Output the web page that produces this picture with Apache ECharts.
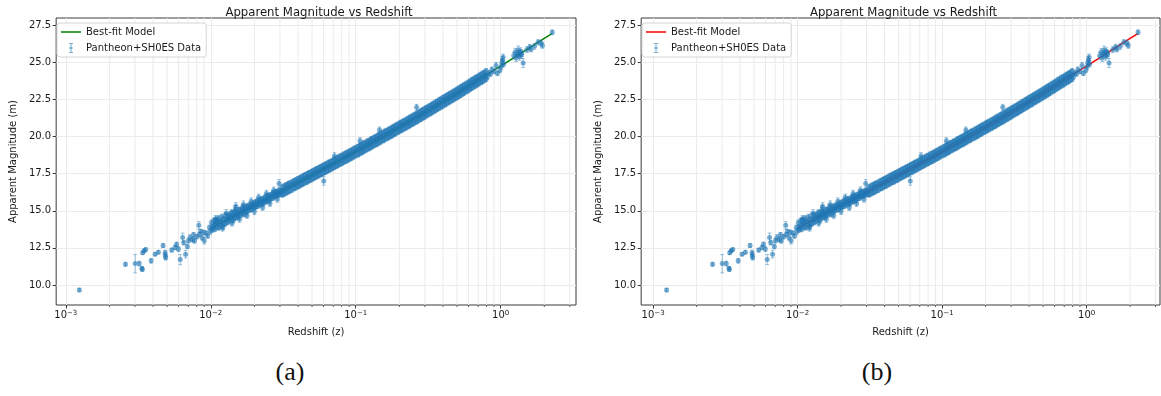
<!DOCTYPE html>
<html>
<head>
<meta charset="utf-8">
<script src="https://cdn.jsdelivr.net/npm/echarts@6/dist/echarts.min.js"></script>
<style>
  body { margin: 0; background: #fff; width: 1161px; height: 396px; position: relative; overflow: hidden; }
  .panel { position: absolute; top: 0; height: 345px; }
  #chartA { left: 0; width: 590px; }
  #chartB { left: 585px; width: 576px; }
  .cap { position: absolute; top: 357px; width: 100px; text-align: center; line-height: 30px;
         font-family: 'Liberation Serif', 'DejaVu Serif', serif; font-size: 26px; color: #111; }
</style>
</head>
<body>
<div id="chartA" class="panel"></div>
<div id="chartB" class="panel"></div>
<div class="cap" style="left:240px">(a)</div>
<div class="cap" style="left:827px">(b)</div>
<script>
// [z, m, err]
const lowZData = [
  [0.00124,9.66,0.12],[0.00258,11.40,0.13],[0.00301,11.44,0.62],[0.00321,11.44,0.16],
  [0.00335,11.13,0.12],[0.00337,11.05,0.13],[0.00339,12.17,0.12],[0.00347,12.30,0.12],
  [0.00356,12.39,0.11],[0.00388,11.63,0.16],[0.00413,12.08,0.11],[0.00435,12.21,0.12],
  [0.00469,12.66,0.13],[0.00484,12.18,0.16],[0.00486,11.98,0.22],[0.00489,11.86,0.18],
  [0.00538,12.35,0.13],[0.00567,12.53,0.15],[0.00581,12.75,0.14],[0.00598,12.42,0.16],
  [0.00616,11.71,0.34],[0.00640,13.20,0.30],[0.00652,12.85,0.15],[0.00671,12.08,0.26],
  [0.00690,12.60,0.15],[0.00702,12.99,0.15],[0.00720,13.20,0.20],[0.00748,13.05,0.15],
  [0.00761,13.39,0.15],[0.00772,12.99,0.18],[0.00800,13.25,0.15],[0.00828,14.02,0.25],
  [0.00834,13.40,0.15],[0.00851,13.62,0.12],[0.00870,13.20,0.18],[0.00890,13.55,0.15],
  [0.00902,12.98,0.22],[0.00930,13.50,0.15],[0.00952,13.30,0.15],[0.00980,13.88,0.15],
  [0.00991,13.60,0.20]
];

const nearData = [
  [0.0101,14.20,0.18],[0.0102,13.70,0.16],[0.0103,13.95,0.14],
  [0.0105,14.35,0.17],[0.0104,13.80,0.15],
  [0.0107,13.75,0.16],[0.0108,14.30,0.18],[0.0106,14.05,0.14],[0.0108,14.46,0.22],
  [0.0110,14.40,0.17],[0.0111,13.90,0.15],[0.0109,14.10,0.13],
  [0.0113,14.50,0.19],[0.0114,13.85,0.16],[0.0112,14.18,0.14],
  [0.0116,14.30,0.15],[0.0117,14.05,0.14],
  [0.0119,14.60,0.18],[0.0120,13.95,0.16],[0.0118,14.25,0.13],[0.0121,13.83,0.20],
  [0.0122,14.45,0.15],[0.0123,14.15,0.14],
  [0.0126,14.70,0.18],[0.0125,14.10,0.16],[0.0127,14.40,0.14],[0.0128,14.83,0.25],
  [0.0130,14.20,0.15],[0.0131,14.65,0.17],[0.0129,14.42,0.13],
  [0.0134,14.75,0.17],[0.0133,14.30,0.15],[0.0135,14.52,0.13],
  [0.0138,14.40,0.15],[0.0139,14.90,0.18],[0.0137,14.60,0.14],[0.0140,14.17,0.20],
  [0.0142,14.85,0.16],[0.0143,14.35,0.17],[0.0141,14.62,0.13],
  [0.0146,14.50,0.15],[0.0147,14.95,0.17],[0.0145,14.70,0.13],[0.0148,15.14,0.22],
  [0.0150,14.90,0.16],[0.0151,14.55,0.15],[0.0149,15.30,0.25],[0.0152,14.74,0.13],
  [0.0155,14.60,0.16],[0.0156,15.05,0.17],[0.0154,14.82,0.13],
  [0.0160,15.10,0.16],[0.0161,14.70,0.15],[0.0159,14.88,0.13],[0.0158,14.43,0.20],
  [0.0165,14.80,0.15],[0.0166,15.25,0.18],[0.0164,15.00,0.13],[0.0168,15.42,0.25],
  [0.0170,15.15,0.16],[0.0171,14.75,0.17],[0.0169,14.98,0.13],
  [0.0175,15.30,0.16],[0.0176,14.90,0.15],[0.0174,15.08,0.12],[0.0178,14.69,0.20],
  [0.0180,15.00,0.15],[0.0181,15.35,0.16],[0.0179,15.15,0.12],
  [0.0186,15.40,0.17],[0.0187,15.05,0.15],[0.0185,15.22,0.12],[0.0190,15.65,0.22],
  [0.0192,15.10,0.15],[0.0193,15.45,0.16],[0.0191,15.28,0.12],
  [0.0198,15.55,0.16],[0.0199,15.20,0.15],[0.0197,15.35,0.12],[0.0200,14.95,0.20],
  [0.0204,15.25,0.14],[0.0205,15.60,0.16],[0.0203,15.40,0.12],
  [0.0210,15.70,0.16],[0.0211,15.30,0.14],[0.0209,15.47,0.12],[0.0214,15.91,0.22],
  [0.0217,15.40,0.14],[0.0218,15.75,0.15],[0.0216,15.55,0.12],
  [0.0224,15.80,0.15],[0.0225,15.45,0.14],[0.0223,15.60,0.12],[0.0228,15.23,0.20],
  [0.0231,15.50,0.14],[0.0232,15.85,0.15],[0.0230,15.68,0.12],
  [0.0238,15.95,0.15],[0.0239,15.60,0.14],[0.0237,15.74,0.11],[0.0242,16.16,0.22],
  [0.0245,15.65,0.14],[0.0246,16.00,0.15],[0.0244,15.80,0.11],
  [0.0252,16.05,0.15],[0.0253,15.70,0.14],[0.0251,15.86,0.11],[0.0256,15.50,0.20],
  [0.0260,15.80,0.13],[0.0261,16.10,0.15],[0.0259,15.94,0.11],
  [0.0268,16.20,0.15],[0.0269,15.85,0.13],[0.0267,16.00,0.11],[0.0272,16.39,0.22],
  [0.0276,15.95,0.13],[0.0277,16.25,0.14],[0.0275,16.06,0.11],
  [0.0284,16.30,0.14],[0.0285,16.00,0.13],[0.0283,16.12,0.11],[0.0288,15.78,0.20],
  [0.0292,16.05,0.13],[0.0293,16.35,0.14],[0.0291,16.18,0.11],[0.0296,16.85,0.25],
  [0.0300,16.40,0.14],[0.0301,16.10,0.13],[0.0299,16.24,0.11],
  [0.0310,16.61,0.14],[0.0311,16.06,0.14],[0.0309,16.34,0.11],
  [0.0320,16.12,0.14],[0.0321,16.68,0.14],[0.0319,16.40,0.11],
  [0.0330,16.75,0.14],[0.0331,16.20,0.14],[0.0329,16.48,0.11],
  [0.0340,16.26,0.14],[0.0341,16.82,0.14],[0.0339,16.55,0.11],
  [0.0350,16.88,0.14],[0.0351,16.33,0.14],[0.0349,16.61,0.11],
  [0.0362,16.39,0.14],[0.0363,16.95,0.14],[0.0361,16.68,0.11],
  [0.0374,17.03,0.14],[0.0375,16.48,0.14],[0.0373,16.76,0.11],
  [0.0386,16.54,0.14],[0.0387,17.10,0.14],[0.0385,16.82,0.11],
  [0.0398,17.17,0.14],[0.0399,16.62,0.14],[0.0397,16.90,0.11],
  [0.0410,16.67,0.14],[0.0411,17.23,0.14],[0.0409,16.96,0.11],
  [0.0423,17.30,0.14],[0.0424,16.75,0.14],[0.0422,17.03,0.11],
  [0.0436,16.82,0.14],[0.0437,17.38,0.14],[0.0435,17.10,0.11],
  [0.0450,17.45,0.14],[0.0451,16.90,0.14],[0.0449,17.18,0.11],
  [0.0464,16.95,0.14],[0.0465,17.51,0.14],[0.0463,17.24,0.11],
  [0.0478,17.58,0.14],[0.0479,17.03,0.14],[0.0477,17.30,0.11],
  [0.0493,17.08,0.14],[0.0494,17.64,0.14],[0.0492,17.37,0.11],
  [0.0508,17.72,0.14],[0.0509,17.17,0.14],[0.0507,17.44,0.11],
  [0.0524,17.23,0.14],[0.0525,17.79,0.14],[0.0523,17.52,0.11],
  [0.0540,17.85,0.14],[0.0541,17.30,0.14],[0.0539,17.57,0.11],
  [0.0557,17.36,0.14],[0.0558,17.92,0.14],[0.0556,17.65,0.11],
  [0.0574,17.99,0.14],[0.0575,17.44,0.14],[0.0573,17.72,0.11],
  [0.0592,17.50,0.14],[0.0593,18.06,0.14],[0.0591,17.79,0.11],
  [0.0602,17.01,0.28],
  [0.0610,18.13,0.14],[0.0611,17.58,0.14],[0.0609,17.86,0.11],
  [0.0629,17.63,0.14],[0.0630,18.19,0.14],[0.0628,17.92,0.11],
  [0.0648,18.27,0.14],[0.0649,17.72,0.14],[0.0647,18.00,0.11],
  [0.0668,17.77,0.14],[0.0669,18.33,0.14],[0.0667,18.06,0.11],
  [0.0689,18.40,0.14],[0.0690,17.85,0.14],[0.0688,18.13,0.11],
  [0.0710,17.92,0.14],[0.0711,18.48,0.14],[0.0714,18.70,0.22],[0.0709,18.21,0.11],
  [0.0732,18.54,0.14],[0.0733,17.99,0.14],[0.0731,18.27,0.11],
  [0.0755,18.05,0.14],[0.0756,18.61,0.14],[0.0754,18.34,0.11],
  [0.0778,18.69,0.14],[0.0779,18.14,0.14],[0.0777,18.42,0.11],
  [0.0802,18.19,0.14],[0.0803,18.75,0.14],[0.0801,18.48,0.11],
  [0.0827,18.83,0.14],[0.0828,18.28,0.14],[0.0826,18.56,0.11],
  [0.0853,18.33,0.14],[0.0854,18.89,0.14],[0.0852,18.62,0.11],
  [0.0880,18.96,0.14],[0.0881,18.41,0.14],[0.0879,18.69,0.11],
  [0.0907,18.48,0.14],[0.0908,19.04,0.14],[0.0906,18.77,0.11],
  [0.0935,19.10,0.14],[0.0936,18.55,0.14],[0.0934,18.83,0.11],
  [0.0964,18.62,0.14],[0.0965,19.18,0.14],[0.0963,18.91,0.11],
  [0.0994,19.25,0.14],[0.0995,18.70,0.14],[0.0993,18.98,0.11]
];

const midData = [
  [0.103,19.33,0.15],[0.1035,18.77,0.15],[0.1025,19.07,0.12],
  [0.106,18.84,0.15],[0.1065,19.41,0.15],[0.1055,19.13,0.12],[0.107,19.73,0.20],
  [0.109,19.46,0.15],[0.1095,18.91,0.15],[0.1085,19.20,0.12],
  [0.112,18.97,0.15],[0.1125,19.54,0.15],[0.1115,19.24,0.12],
  [0.115,19.60,0.15],[0.1155,19.05,0.15],[0.1145,19.34,0.12],
  [0.119,19.11,0.15],[0.1195,19.68,0.15],[0.1185,19.40,0.12],
  [0.122,19.73,0.15],[0.1225,19.18,0.15],[0.1215,19.47,0.12],
  [0.126,19.24,0.15],[0.1265,19.81,0.15],[0.1255,19.53,0.12],
  [0.129,19.87,0.15],[0.1295,19.32,0.15],[0.1285,19.60,0.12],
  [0.133,19.38,0.15],[0.1335,19.95,0.15],[0.1325,19.68,0.12],
  [0.137,20.00,0.15],[0.1375,19.45,0.15],[0.1365,19.73,0.12],
  [0.141,19.51,0.15],[0.1415,20.08,0.15],[0.1405,19.80,0.12],
  [0.145,20.14,0.15],[0.1455,19.59,0.15],[0.1445,19.88,0.12],[0.146,20.45,0.20],
  [0.149,19.65,0.15],[0.1495,20.22,0.15],[0.1485,19.94,0.12],
  [0.154,20.28,0.15],[0.1545,19.73,0.15],[0.1535,20.02,0.12],
  [0.158,19.79,0.15],[0.1585,20.36,0.15],[0.1575,20.08,0.12],
  [0.163,20.42,0.15],[0.1635,19.87,0.15],[0.1625,20.15,0.12],
  [0.168,19.92,0.15],[0.1685,20.49,0.15],[0.1675,20.22,0.12],
  [0.173,20.55,0.15],[0.1735,20.00,0.15],[0.1725,20.28,0.12],
  [0.178,20.06,0.15],[0.1785,20.63,0.15],[0.1775,20.35,0.12],
  [0.183,20.69,0.15],[0.1835,20.14,0.15],[0.1825,20.42,0.12],
  [0.188,20.20,0.15],[0.1885,20.77,0.15],[0.1875,20.50,0.12],
  [0.194,20.83,0.15],[0.1945,20.28,0.15],[0.1935,20.56,0.12],
  [0.200,20.34,0.15],[0.2005,20.91,0.15],[0.1995,20.63,0.12],
  [0.205,20.97,0.15],[0.2055,20.42,0.15],[0.2045,20.70,0.12],
  [0.211,20.47,0.15],[0.2115,21.04,0.15],[0.2105,20.77,0.12],
  [0.218,21.10,0.15],[0.2185,20.55,0.15],[0.2175,20.83,0.12],
  [0.224,20.61,0.15],[0.2245,21.18,0.15],[0.2235,20.90,0.12],
  [0.231,21.24,0.15],[0.2315,20.69,0.15],[0.2305,20.97,0.12],
  [0.237,20.75,0.15],[0.2375,21.32,0.15],[0.2365,21.05,0.12],
  [0.244,21.38,0.15],[0.2445,20.83,0.15],[0.2435,21.11,0.12],
  [0.251,20.89,0.15],[0.2515,21.46,0.15],[0.2505,21.18,0.12],
  [0.259,21.52,0.15],[0.2595,20.97,0.15],[0.2585,21.25,0.12],[0.263,21.98,0.20],
  [0.266,21.03,0.15],[0.2665,21.60,0.15],[0.2655,21.33,0.12],
  [0.274,21.67,0.15],[0.2745,21.12,0.15],[0.2735,21.40,0.12],
  [0.282,21.18,0.15],[0.2825,21.75,0.15],[0.2815,21.47,0.12],
  [0.290,21.81,0.15],[0.2905,21.26,0.15],[0.2895,21.54,0.12],
  [0.299,21.32,0.15],[0.2995,21.89,0.15],[0.2985,21.62,0.12],
  [0.307,21.96,0.15],[0.3075,21.41,0.15],[0.3065,21.69,0.12],
  [0.316,21.47,0.15],[0.3165,22.04,0.15],[0.3155,21.76,0.12],
  [0.326,22.10,0.15],[0.3265,21.55,0.15],[0.3255,21.83,0.12],
  [0.335,21.61,0.15],[0.3355,22.18,0.15],[0.3345,21.91,0.12],
  [0.345,22.25,0.15],[0.3455,21.70,0.15],[0.3445,21.98,0.12],
  [0.355,21.76,0.15],[0.3555,22.33,0.15],[0.3545,22.05,0.12],
  [0.365,22.39,0.15],[0.3655,21.84,0.15],[0.3645,22.12,0.12],
  [0.376,21.91,0.15],[0.3765,22.48,0.15],[0.3755,22.20,0.12],
  [0.387,22.54,0.15],[0.3875,21.99,0.15],[0.3865,22.27,0.12],
  [0.398,22.06,0.15],[0.3985,22.63,0.15],[0.3975,22.35,0.12],
  [0.410,22.69,0.15],[0.4105,22.14,0.15],[0.4095,22.42,0.12],
  [0.422,22.20,0.15],[0.4225,22.77,0.15],[0.4215,22.50,0.12],
  [0.434,22.84,0.15],[0.4345,22.29,0.15],[0.4335,22.57,0.12],
  [0.447,22.35,0.15],[0.4475,22.92,0.15],[0.4465,22.64,0.12],
  [0.460,22.98,0.15],[0.4605,22.43,0.15],[0.4595,22.71,0.12],
  [0.473,22.49,0.15],[0.4735,23.06,0.15],[0.4725,22.79,0.12],
  [0.487,23.13,0.15],[0.4875,22.58,0.15],[0.4865,22.86,0.12],
  [0.501,22.64,0.15],[0.5015,23.21,0.15],[0.5005,22.93,0.12],
  [0.516,23.28,0.15],[0.5165,22.73,0.15],[0.5155,23.01,0.12],
  [0.531,22.79,0.15],[0.5315,23.36,0.15],[0.5305,23.08,0.12],
  [0.546,23.43,0.15],[0.5465,22.88,0.15],[0.5455,23.16,0.12],
  [0.562,22.95,0.15],[0.5625,23.52,0.15],[0.5615,23.24,0.12],
  [0.579,23.59,0.15],[0.5795,23.04,0.15],[0.5785,23.32,0.12],
  [0.596,23.10,0.15],[0.5965,23.67,0.15],[0.5955,23.40,0.12],
  [0.613,23.74,0.15],[0.6135,23.19,0.15],[0.6125,23.47,0.12],
  [0.631,23.26,0.15],[0.6315,23.83,0.15],[0.6305,23.55,0.12],
  [0.649,23.89,0.15],[0.6495,23.34,0.15],[0.6485,23.62,0.12],
  [0.668,23.41,0.15],[0.6685,23.98,0.15],[0.6675,23.70,0.12],
  [0.688,24.04,0.15],[0.6885,23.49,0.15],[0.6875,23.78,0.12],
  [0.708,23.56,0.15],[0.7085,24.13,0.15],[0.7075,23.85,0.12],
  [0.729,24.20,0.15],[0.7295,23.65,0.15],[0.7285,23.93,0.12],
  [0.750,23.71,0.15],[0.7505,24.28,0.15],[0.7495,24.00,0.12],
  [0.772,24.35,0.15],[0.7725,23.80,0.15],[0.7715,24.08,0.12],
  [0.794,23.87,0.15],[0.7945,24.44,0.15],[0.7935,24.16,0.12]
];

const highZData = [
  [0.810,24.03,0.15],[0.830,24.30,0.16],[0.850,24.22,0.15],[0.870,24.52,0.18],
  [0.900,24.40,0.16],[0.930,24.80,0.20],[0.950,24.28,0.16],[0.990,24.50,0.18],
  [1.010,24.75,0.20],[1.020,25.00,0.22],[1.030,25.16,0.24],[1.040,25.35,0.22],
  [1.050,24.90,0.20],[1.230,25.45,0.22],[1.260,25.70,0.25],[1.280,25.30,0.24],
  [1.300,25.55,0.22],[1.320,25.85,0.26],[1.340,25.60,0.22],[1.350,25.40,0.25],
  [1.370,25.75,0.24],[1.390,25.50,0.22],[1.400,25.62,0.22],[1.430,24.96,0.30],
  [1.520,25.87,0.20],[1.590,26.04,0.18],[1.620,25.90,0.18],[1.710,26.09,0.20],
  [1.810,26.36,0.18],[1.900,26.31,0.20],[1.940,26.14,0.18],[2.270,27.04,0.16]
];

// best-fit curve, sampled
const modelZ = [0.01, 0.02, 0.03, 0.05, 0.0708, 0.1, 0.15, 0.2, 0.3, 0.4, 0.5, 0.7, 1.0, 1.5, 2.0, 2.26];
const modelM = [13.84, 15.36, 16.26, 17.40, 18.19, 18.98, 19.94, 20.62, 21.62, 22.35, 22.92, 23.84, 24.76, 25.85, 26.62, 26.94];

const yTicks = [10, 12.5, 15, 17.5, 20, 22.5, 25, 27.5];
const xTicks = [0.001, 0.01, 0.1, 1];
const minorX = [];
xTicks.forEach(function (d) {
  for (let k = 2; k <= 9; k++) minorX.push(+(k * d).toPrecision(3));
});

const snData = lowZData.concat(nearData, midData, highZData);
const modelData = modelZ.map(function (z, i) { return [z, modelM[i]]; });

const FONT = "'DejaVu Sans', sans-serif";
const GRIDC = '#ebebeb';
const INK = '#1a1a1a';

function supLabel(v) {
  const r = Math.round(Math.log10(v));
  return '{b|10}{s|' + (r < 0 ? '\u2212' + (-r) : r) + '}';
}

function makeOption(cfg) {
  return {
    animation: false,
    title: {
      text: 'Apparent Magnitude vs Redshift',
      left: cfg.left + cfg.width / 2, top: 2, textAlign: 'center',
      textStyle: { fontFamily: FONT, fontSize: 11.7, fontWeight: 'normal', color: INK }
    },
    legend: {
      orient: 'vertical', left: cfg.left + 5, top: 23,
      itemWidth: 20, itemHeight: 10, itemGap: 6,
      padding: [4, 5, 4, 4],
      backgroundColor: '#fff', borderColor: '#d5d5d5', borderWidth: 1, borderRadius: 3,
      textStyle: { fontFamily: FONT, fontSize: 10, color: INK },
      data: [
        { name: 'Best-fit Model', icon: 'path://M0,0H20V1.5H0Z',
          itemStyle: { color: cfg.lineColor } },
        { name: 'Pantheon+SH0ES Data',
          icon: 'path://M3,0H7V1H5.5V4H6.5V6H5.5V9H7V10H3V9H4.5V6H3.5V4H4.5V1H3Z',
          itemStyle: { color: 'rgba(31,119,180,0.6)' } }
      ]
    },
    grid: {
      left: cfg.left, top: 18, width: cfg.width, height: 287,
      show: true, borderColor: '#3a3a3a', borderWidth: 1, backgroundColor: 'transparent'
    },
    xAxis: {
      type: 'log', logBase: 10, min: cfg.xmin, max: cfg.xmax,
      name: 'Redshift (z)', nameLocation: 'middle', nameGap: 22,
      nameTextStyle: { fontFamily: FONT, fontSize: 10, color: INK },
      axisLine: { show: false },
      axisTick: { show: true, length: 3.5, customValues: xTicks, lineStyle: { color: '#3a3a3a' } },
      splitLine: { show: true, lineStyle: { color: GRIDC, width: 1 } },
      axisLabel: {
        margin: 5, formatter: supLabel, customValues: xTicks,
        rich: {
          b: { fontFamily: FONT, fontSize: 10, color: INK, verticalAlign: 'bottom' },
          s: { fontFamily: FONT, fontSize: 7, color: INK, verticalAlign: 'top' }
        }
      }
    },
    yAxis: {
      type: 'value', min: 8.65, max: 28.0,
      name: 'Apparent Magnitude (m)', nameLocation: 'middle', nameGap: 36,
      nameTextStyle: { fontFamily: FONT, fontSize: 10, color: INK },
      axisLine: { show: false },
      axisTick: { show: true, length: 3.5, customValues: yTicks, lineStyle: { color: '#3a3a3a' } },
      splitLine: { show: true, lineStyle: { color: GRIDC, width: 1 } },
      axisLabel: {
        margin: 5, fontFamily: FONT, fontSize: 10, color: INK, customValues: yTicks,
        formatter: function (v) { return v.toFixed(1); }
      }
    },
    series: [
      {
        type: 'custom', name: 'minor', silent: true, z: 1,
        data: minorX.map(function (v) { return [v, 20]; }),
        renderItem: function (params, api) {
          const cs = params.coordSys;
          const v = api.value(0);
          if (v < cfg.xmin || v > cfg.xmax) return;
          const x = api.coord([v, 20])[0];
          const yb = cs.y + cs.height;
          return {
            type: 'group',
            children: [
              { type: 'line', shape: { x1: x, y1: cs.y, x2: x, y2: yb }, style: { stroke: GRIDC, lineWidth: 1 } },
              { type: 'line', shape: { x1: x, y1: yb, x2: x, y2: yb + 2 }, style: { stroke: '#3a3a3a', lineWidth: 0.8 } }
            ]
          };
        }
      },
      {
        type: 'line', name: 'Best-fit Model', data: modelData, z: 2,
        symbol: 'none', smooth: false,
        lineStyle: { color: cfg.lineColor, width: 1.5 },
        itemStyle: { color: cfg.lineColor }
      },
      {
        type: 'custom', name: 'Pantheon+SH0ES Data', data: snData, z: 3, clip: true,
        itemStyle: { color: 'rgba(31,119,180,0.6)' },
        renderItem: function (params, api) {
          const z = api.value(0), m = api.value(1), e = api.value(2);
          const top = api.coord([z, m + e]);
          const bot = api.coord([z, m - e]);
          const st = { stroke: 'rgba(31,119,180,0.45)', lineWidth: 1 };
          return {
            type: 'group',
            children: [
              { type: 'line', shape: { x1: top[0], y1: top[1], x2: bot[0], y2: bot[1] }, style: st },
              { type: 'line', shape: { x1: top[0] - 1.8, y1: top[1], x2: top[0] + 1.8, y2: top[1] }, style: st },
              { type: 'line', shape: { x1: bot[0] - 1.8, y1: bot[1], x2: bot[0] + 1.8, y2: bot[1] }, style: st }
            ]
          };
        }
      },
      {
        type: 'scatter', name: 'Pantheon+SH0ES Data', data: snData, z: 4,
        symbol: 'circle', symbolSize: 5,
        itemStyle: { color: 'rgba(31,119,180,0.75)' }
      }
    ]
  };
}

const chartA = echarts.init(document.getElementById('chartA'), null, { renderer: 'canvas' });
chartA.setOption(makeOption({ left: 52, width: 524, xmin: 0.000858, xmax: 3.31, lineColor: '#008000' }));

const chartB = echarts.init(document.getElementById('chartB'), null, { renderer: 'canvas' });
chartB.setOption(makeOption({ left: 52, width: 523, xmin: 0.000827, xmax: 3.22, lineColor: '#ff0000' }));

window.addEventListener('resize', function () {
  chartA.resize();
  chartB.resize();
});
</script>
</body>
</html>
